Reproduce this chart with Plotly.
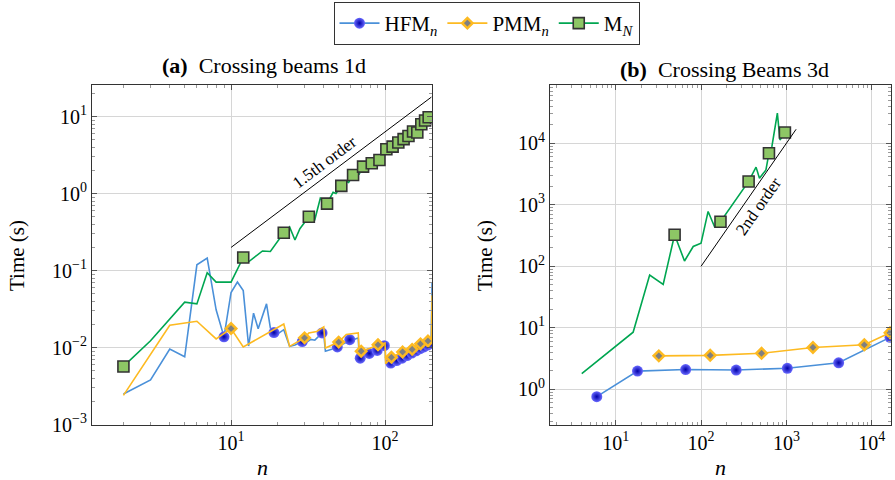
import numpy as np
import plotly.graph_objects as go

FONT = "Liberation Serif"

# ---------------- Panel (a): Crossing beams 1d ----------------
a_hfm_x = [2, 3, 4, 5, 6, 7, 8, 9, 10, 11, 12, 13, 14, 15, 17, 18, 19, 20, 22, 24,
           26, 27, 29, 31, 33, 35, 37, 39, 40, 41, 45, 49, 52, 55, 59, 63, 67, 68, 69, 79,
           89, 99, 100, 101, 109, 119, 129, 139, 149, 159, 169, 179, 189, 199, 202]
a_hfm_y = [0.0025, 0.0038, 0.0096, 0.0076, 0.119, 0.145, 0.031, 0.0138, 0.052, 0.071,
           0.055, 0.0105, 0.028, 0.0176, 0.037, 0.018, 0.0157, 0.0150, 0.0171, 0.0104,
           0.0108, 0.0112, 0.0120, 0.0118, 0.0128, 0.0125, 0.0140, 0.0155, 0.0150, 0.0090,
           0.0095, 0.0102, 0.0108, 0.0115, 0.0127, 0.0128, 0.0134, 0.0073, 0.0073, 0.0084,
           0.0092, 0.0106, 0.0107, 0.0063, 0.0063, 0.0068, 0.0073, 0.0079, 0.0085, 0.0091,
           0.0097, 0.0102, 0.0108, 0.0113, 0.070]
a_hfm_mx = [9, 19, 29, 39, 49, 59, 69, 79, 89, 99, 109, 119, 129, 139, 149, 159, 169, 179, 189, 199]
a_hfm_my = [0.0138, 0.0157, 0.0120, 0.0155, 0.0102, 0.0127, 0.0073, 0.0084, 0.0092, 0.0106,
            0.0063, 0.0068, 0.0073, 0.0079, 0.0085, 0.0091, 0.0097, 0.0102, 0.0108, 0.0113]

a_pmm_x = [2, 4, 6, 8, 10, 12, 22, 24, 30, 32, 36, 40, 41, 50, 56, 67, 68, 70, 80, 90,
           100, 101, 110, 120, 130, 140, 150, 160, 170, 180, 190, 200, 202]
a_pmm_y = [0.0024, 0.0195, 0.022, 0.013, 0.0177, 0.0102, 0.0203, 0.0104, 0.0134, 0.0155,
           0.0162, 0.0186, 0.0099, 0.0118, 0.0148, 0.0155, 0.0085, 0.0090, 0.0098, 0.0109,
           0.0115, 0.0062, 0.0075, 0.0082, 0.0088, 0.0090, 0.0095, 0.0103, 0.0112, 0.0116,
           0.0122, 0.0125, 0.048]
a_pmm_mx = [10, 30, 50, 70, 90, 110, 130, 150, 170, 190]
a_pmm_my = [0.0177, 0.0134, 0.0118, 0.0090, 0.0109, 0.0075, 0.0088, 0.0095, 0.0112, 0.0122]

a_mn_x = [2, 3, 5, 6, 7, 8, 10, 12, 13, 16, 18, 20, 22, 24, 26, 28, 32, 35, 38, 42,
          46, 48, 52, 56, 58, 62, 66, 68, 72, 76, 78, 82, 85, 87, 92, 95, 98, 102, 106, 112,
          118, 122, 132, 142, 147, 152, 157, 162, 172, 177, 182, 192, 200]
a_mn_y = [0.0057, 0.0123, 0.039, 0.037, 0.094, 0.071, 0.071, 0.148, 0.13, 0.18,
          0.177, 0.24, 0.31, 0.37, 0.25, 0.35, 0.50, 0.46, 0.87, 0.74,
          1.04, 1.0, 1.26, 1.45, 1.4, 1.74, 1.9, 1.8, 2.24, 2.5,
          2.1, 2.48, 2.9, 2.3, 2.73, 3.3, 2.9, 3.77, 4.0, 4.07,
          4.4, 4.6, 5.1, 5.6, 5.8, 6.4, 6.0, 6.2, 7.95, 8.0,
          8.9, 9.8, 10.2]
a_mn_mx = [2, 12, 22, 32, 42, 52, 62, 72, 82, 92, 102, 112, 122, 132, 142, 152, 162, 172, 182, 192]
a_mn_my = [0.0057, 0.148, 0.31, 0.50, 0.74, 1.26, 1.74, 2.24, 2.48, 2.73,
           3.77, 4.07, 4.6, 5.1, 5.6, 6.4, 6.2, 7.95, 8.9, 9.8]

a_ref_x = [10, 200]
a_ref_y = [0.2, 17.9]
a_ref_label = "1.5th order"

a_x_exps = [1, 2]
a_y_exps = [-3, -2, -1, 0, 1]

# ---------------- Panel (b): Crossing Beams 3d ----------------
b_hfm_x = [6, 18, 66, 258, 1026, 4098, 16386]
b_hfm_y = [0.76, 1.98, 2.1, 2.06, 2.2, 2.7, 7.0]

b_pmm_x = [32, 128, 512, 2048, 8192, 16384]
b_pmm_y = [3.5, 3.57, 3.85, 4.8, 5.3, 8.3]

b_mn_x = [4, 16, 25, 36, 49, 64, 81, 100, 121, 144, 169, 361, 441, 484, 576, 625, 676, 784, 841, 961]
b_mn_y = [1.8, 8.5, 72, 51, 326, 122, 210, 237, 780, 440, 530, 2400, 4100, 2700, 3700, 6900, 8800, 31000, 11300, 15000]
b_mn_mx = [49, 169, 361, 625, 961]
b_mn_my = [326, 530, 2400, 6900, 15000]

b_ref_x = [100, 1300]
b_ref_y = [100, 16900]
b_ref_label = "2nd order"

b_x_exps = [1, 2, 3, 4]
b_y_exps = [0, 1, 2, 3, 4]

# ---------------- styling ----------------
W, H = 895, 480
C_HFM = "#4A90D9"
C_PMM = "#FDBA21"
C_MN = "#00A651"

m_hfm = dict(symbol="circle", size=11, color="#6a6aff",
             gradient=dict(type="radial", color="#0000a8"), line=dict(width=0))
m_pmm = dict(symbol="diamond", size=8, color="#808080", line=dict(color="#FDBA21", width=2.5))
m_mn = dict(symbol="square", size=11, color="#8DC665", line=dict(color="#333333", width=1.6))

LX0, LX1 = 92, 432
RX0, RX1 = 550, 891
YT, YB = 85, 424.7
LXR = [0.097, 2.305]
LYR = [-3.0005, 1.41]
RXR = [0.23, 4.226]
RYR = [-0.575, 4.948]

fig = go.Figure()


def add_series(xs, ys, mx, my, color, marker, xa, ya):
    fig.add_trace(go.Scatter(x=xs, y=ys, mode="lines", line=dict(color=color, width=1.6),
                             showlegend=False, hoverinfo="skip", xaxis=xa, yaxis=ya))
    fig.add_trace(go.Scatter(x=mx, y=my, mode="markers", marker=marker,
                             showlegend=False, xaxis=xa, yaxis=ya))


add_series(a_hfm_x, a_hfm_y, a_hfm_mx, a_hfm_my, C_HFM, m_hfm, "x", "y")
add_series(a_pmm_x, a_pmm_y, a_pmm_mx, a_pmm_my, C_PMM, m_pmm, "x", "y")
add_series(a_mn_x, a_mn_y, a_mn_mx, a_mn_my, C_MN, m_mn, "x", "y")
fig.add_trace(go.Scatter(x=a_ref_x, y=a_ref_y, mode="lines", line=dict(color="black", width=1),
                         showlegend=False, xaxis="x", yaxis="y"))

add_series(b_hfm_x, b_hfm_y, b_hfm_x, b_hfm_y, C_HFM, m_hfm, "x2", "y2")
add_series(b_pmm_x, b_pmm_y, b_pmm_x, b_pmm_y, C_PMM, m_pmm, "x2", "y2")
add_series(b_mn_x, b_mn_y, b_mn_mx, b_mn_my, C_MN, m_mn, "x2", "y2")
fig.add_trace(go.Scatter(x=b_ref_x, y=b_ref_y, mode="lines", line=dict(color="black", width=1),
                         showlegend=False, xaxis="x2", yaxis="y2"))

for name, color, marker in [("HFM<sub><i>n</i></sub>", C_HFM, m_hfm),
                            ("PMM<sub><i>n</i></sub>", C_PMM, m_pmm),
                            ("M<sub><i>N</i></sub>", C_MN, m_mn)]:
    fig.add_trace(go.Scatter(x=[None], y=[None], mode="lines+markers", name=name,
                             line=dict(color=color, width=1.6), marker=marker,
                             xaxis="x", yaxis="y"))


def pow_label(e):
    s = str(e).replace("-", "\u2212")
    return "10<sup>" + s + "</sup>"


def log_axis(exps, rng, dom, anchor):
    lo = int(np.floor(rng[0])) - 1
    hi = int(np.ceil(rng[1])) + 1
    minor_vals = [m * 10.0 ** e for e in range(lo, hi) for m in range(2, 10)]
    return dict(type="log", range=rng, domain=dom, anchor=anchor,
                tickmode="array", tickvals=[10.0 ** e for e in exps],
                ticktext=[pow_label(e) for e in exps],
                showline=True, linecolor="#333333", linewidth=1, mirror="allticks",
                ticks="inside", ticklen=5, tickcolor="#555555",
                showgrid=True, gridcolor="#d6d6d6", gridwidth=1, zeroline=False,
                automargin=False,
                tickfont=dict(family=FONT, size=20, color="black"),
                minor=dict(tickmode="array", tickvals=minor_vals, ticks="inside",
                           ticklen=3, tickcolor="#9a9a9a", showgrid=False))


ydom = [(H - YB) / H, (H - YT) / H]
fig.update_layout(
    width=W, height=H, margin=dict(l=0, r=0, t=0, b=0),
    paper_bgcolor="white", plot_bgcolor="white",
    font=dict(family=FONT, size=20, color="black"),
    xaxis=log_axis(a_x_exps, LXR, [LX0 / W, LX1 / W], "y"),
    yaxis=log_axis(a_y_exps, LYR, ydom, "x"),
    xaxis2=log_axis(b_x_exps, RXR, [RX0 / W, RX1 / W], "y2"),
    yaxis2=log_axis(b_y_exps, RYR, ydom, "x2"),
    showlegend=True,
    legend=dict(orientation="h", x=486.5 / W, xanchor="center", y=1 - 2 / H, yanchor="top",
                bordercolor="#333333", borderwidth=1, bgcolor="white",
                font=dict(family=FONT, size=21), itemwidth=40, tracegroupgap=0),
)


def label_angle(xr, yr, x0, x1, slope):
    xpx = (x1 - x0) / (xr[1] - xr[0])
    ypx = (YB - YT) / (yr[1] - yr[0])
    return -np.degrees(np.arctan(slope * ypx / xpx))


a_slope = (np.log10(a_ref_y[1]) - np.log10(a_ref_y[0])) / (np.log10(a_ref_x[1]) - np.log10(a_ref_x[0]))
b_slope = (np.log10(b_ref_y[1]) - np.log10(b_ref_y[0])) / (np.log10(b_ref_x[1]) - np.log10(b_ref_x[0]))

txt = dict(showarrow=False, xanchor="center", yanchor="middle")
annotations = [
    dict(text=a_ref_label, xref="x", yref="y",
         x=np.mean(np.log10(a_ref_x)), y=np.mean(np.log10(a_ref_y)),
         textangle=label_angle(LXR, LYR, LX0, LX1, a_slope), xshift=-7, yshift=10,
         font=dict(family=FONT, size=17), **txt),
    dict(text=b_ref_label, xref="x2", yref="y2",
         x=np.mean(np.log10(b_ref_x)), y=np.mean(np.log10(b_ref_y)),
         textangle=label_angle(RXR, RYR, RX0, RX1, b_slope), xshift=10, yshift=-9,
         font=dict(family=FONT, size=17), **txt),
    dict(text="<b>(a)</b>\u00a0\u00a0Crossing beams 1d", xref="paper", yref="paper",
         x=264 / W, y=1 - 66 / H, font=dict(family=FONT, size=22), **txt),
    dict(text="<b>(b)</b>\u00a0\u00a0Crossing Beams 3d", xref="paper", yref="paper",
         x=724 / W, y=1 - 69 / H, font=dict(family=FONT, size=22), **txt),
    dict(text="Time (s)", xref="paper", yref="paper", x=17 / W, y=1 - 256 / H,
         textangle=-90, font=dict(family=FONT, size=21), **txt),
    dict(text="Time (s)", xref="paper", yref="paper", x=485 / W, y=1 - 256 / H,
         textangle=-90, font=dict(family=FONT, size=21), **txt),
    dict(text="<i>n</i>", xref="paper", yref="paper", x=262 / W, y=1 - 467 / H,
         font=dict(family=FONT, size=22), **txt),
    dict(text="<i>n</i>", xref="paper", yref="paper", x=720 / W, y=1 - 467 / H,
         font=dict(family=FONT, size=22), **txt),
]
fig.update_layout(annotations=annotations)

fig.write_html("out.html")
